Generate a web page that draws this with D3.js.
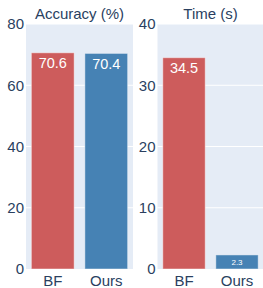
<!DOCTYPE html>
<html>
<head>
<meta charset="utf-8">
<script src="https://d3js.org/d3.v7.min.js"></script>
<style>
  body { margin: 0; background: #fff; }
  svg text { font-family: "Liberation Sans", Arial, sans-serif; fill: #2a3f5f; }
</style>
</head>
<body>
<div id="chart"></div>
<script>
var width = 263,
    height = 288;

var categories = ["BF", "Ours"];
var accuracy = [70.6, 70.4];
var timeSec = [34.5, 2.3];
var barColors = ["#CD5C5C", "#4682B4"];
var accTicks = [0, 20, 40, 60, 80];
var timeTicks = [0, 10, 20, 30, 40];

var svg = d3.select("#chart")
    .append("svg")
    .attr("width", width)
    .attr("height", height);

var plotTop = 24, plotBottom = 269;

function panel(x0, x1, title, values, ticks, fmt) {
    var g = svg.append("g");

    var x = d3.scaleBand().domain(categories).range([x0, x1]).paddingInner(0.2).paddingOuter(0.1);
    var y = d3.scaleLinear().domain([0, d3.max(ticks)]).range([plotBottom, plotTop]);

    g.append("rect")
        .attr("x", x0)
        .attr("y", plotTop)
        .attr("width", x1 - x0)
        .attr("height", plotBottom - plotTop)
        .style("fill", "#E5ECF6");

    // gridlines
    g.selectAll(".grid")
        .data(ticks.filter(function (t) { return t > 0; }))
        .enter().append("line")
        .attr("x1", x0)
        .attr("x2", x1)
        .attr("y1", function (d) { return y(d); })
        .attr("y2", function (d) { return y(d); })
        .style("stroke", "#fff")
        .style("stroke-width", 1);

    // y tick labels
    g.selectAll(".ytick")
        .data(ticks)
        .enter().append("text")
        .attr("x", x0 - 2)
        .attr("y", function (d) { return y(d); })
        .attr("dy", "0.36em")
        .style("text-anchor", "end")
        .style("font-size", "15px")
        .text(function (d) { return d; });

    // bars
    g.selectAll(".bar")
        .data(values)
        .enter().append("rect")
        .attr("x", function (d, i) { return x(categories[i]); })
        .attr("y", function (d) { return y(d); })
        .attr("width", x.bandwidth())
        .attr("height", function (d) { return plotBottom - y(d); })
        .style("fill", function (d, i) { return barColors[i]; })
        .style("stroke", "rgba(255,255,255,0.45)")
        .style("stroke-width", 1);

    // value labels inside bars
    values.forEach(function (d, i) {
        var h = plotBottom - y(d);
        var fs = Math.min(14.5, h * 0.57);
        var ty = h > 30 ? y(d) + 15.5 : y(d) + h / 2 + fs * 0.36;
        g.append("text")
            .attr("x", x(categories[i]) + x.bandwidth() / 2)
            .attr("y", ty)
            .style("text-anchor", "middle")
            .style("font-size", fs + "px")
            .style("fill", "#fff")
            .text(fmt(d));
    });

    // x labels
    g.selectAll(".xlab")
        .data(categories)
        .enter().append("text")
        .attr("x", function (d) { return x(d) + x.bandwidth() / 2; })
        .attr("y", 285.5)
        .style("text-anchor", "middle")
        .style("font-size", "15px")
        .text(function (d) { return d; });

    g.append("text")
        .attr("x", (x0 + x1) / 2)
        .attr("y", 18.5)
        .style("text-anchor", "middle")
        .style("font-size", "15px")
        .text(title);
}

panel(26, 133, "Accuracy (%)", accuracy, accTicks, function (d) { return d.toFixed(1); });
panel(157.5, 263.5, "Time (s)", timeSec, timeTicks, function (d) { return d.toFixed(1); });
</script>
</body>
</html>
